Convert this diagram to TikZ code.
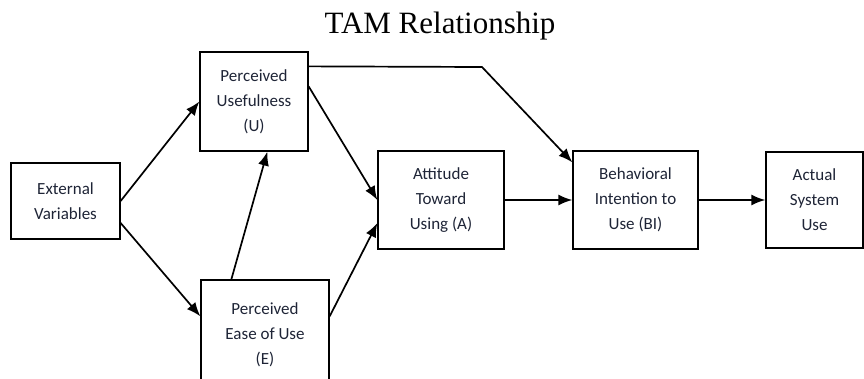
\documentclass[tikz,border=0pt]{standalone}
\usepackage{fontspec}
\setmainfont{Carlito}
\newfontfamily\titlefont{Liberation Serif}
\usetikzlibrary{arrows.meta,calc}
\definecolor{boxtext}{RGB}{30,36,54}
\begin{document}
\begin{tikzpicture}[x=1pt,y=-1pt,
  box/.style={draw=black,line width=1.3pt,align=center,text=boxtext,
    font=\fontsize{17}{25}\selectfont,inner sep=0pt},
  conn/.style={line width=1.7pt,-{Latex[length=14pt,width=11pt]}}]
\clip (0,0) rectangle (864,378);
\useasboundingbox (0,0) rectangle (864,378);
\node[font=\titlefont\fontsize{31}{36}\selectfont,anchor=base] (title) at (440,33) {TAM Relationship};
\node[box,minimum width=109pt,minimum height=76pt] (ext) at (65.5,201) {External\\Variables};
\node[box,minimum width=108pt,minimum height=99pt] (U) at (254,101.5) {Perceived\\Usefulness\\(U)};
\node[box,minimum width=128pt,minimum height=110pt] (E) at (265,335) {Perceived\\Ease of Use\\(E)};
\node[box,minimum width=126pt,minimum height=98pt] (A) at (441,200) {Attitude\\Toward\\Using (A)};
\node[box,minimum width=125pt,minimum height=98pt] (BI) at (635.5,200) {Behavioral\\Intention to\\Use (BI)};
\node[box,minimum width=97pt,minimum height=96pt] (Act) at (814.5,200) {Actual\\System\\Use};
\coordinate (bend) at (482,67);
\draw[conn] (ext.east) -- (U.west);
\draw[conn] ($(ext.east)+(0,22)$) -- ($(E.north west)+(0,37)$);
\draw[conn] ($(E.north west)+(31,0)$) -- ($(U.south west)+(68,0)$);
\draw[conn] ($(U.north east)+(0,35)$) -- (A.west);
\draw[conn] ($(E.north east)+(0,37)$) -- ($(A.west)+(0,23)$);
\draw[conn] ($(U.north east)+(0,15)$) -- (bend) -- ($(BI.north west)+(0,12)$);
\draw[conn] (A.east) -- (BI.west);
\draw[conn] (BI.east) -- (Act.west);
\end{tikzpicture}
\end{document}
